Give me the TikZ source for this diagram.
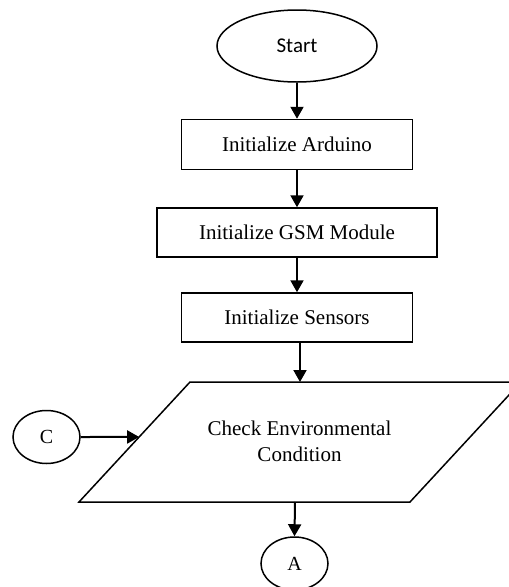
\documentclass[tikz,border=0pt]{standalone}
\usepackage{fontspec}
\setmainfont{Liberation Serif}
\newfontfamily\startfont{Carlito}
\usetikzlibrary{shapes.geometric,arrows.meta,calc}
\tikzset{
  proc/.style={draw,line width=1.5pt,minimum width=231pt,minimum height=50pt,inner sep=0pt,font=\fontsize{21}{25}\selectfont},
  term/.style={draw,ellipse,line width=1.5pt,minimum width=160pt,minimum height=72pt,inner sep=0pt,font=\startfont\fontsize{21}{25}\selectfont},
  conn/.style={draw,ellipse,line width=1.5pt,minimum width=67pt,minimum height=53pt,inner sep=0pt,font=\fontsize{20}{24}\selectfont},
  flow/.style={line width=2pt,-{Triangle[length=12pt,width=13pt]}},
}
\begin{document}
\begin{tikzpicture}[x=1pt,y=-1pt]
\clip (0,0) rectangle (509,587);
\node[term] (start) at (297,46) {Start};
\node[proc] (b1) at (297,144.5) {Initialize Arduino};
\node[proc,minimum width=280pt,minimum height=49pt] (b2) at (297,232.5) {Initialize GSM Module};
\node[proc,minimum height=49pt] (b3) at (297,317.5) {Initialize Sensors};
\coordinate (tl) at (190,382);
\coordinate (tr) at (521,382);
\coordinate (br) at (410,502);
\coordinate (bl) at (79,502);
\draw[line width=1.5pt] (tl) -- (tr) -- (br) -- (bl) -- cycle;
\node[align=center,font=\fontsize{21}{26}\selectfont] (chk) at (299.5,441) {Check Environmental\\Condition};
\coordinate (ptop) at (300,382);
\coordinate (pbot) at (295,502);
\coordinate (pl) at ($(tl)!0.458!(bl)$);
\node[conn] (c) at (46.5,437) {C};
\node[conn] (a) at (294.5,563.5) {A};
\draw[flow] (start) -- (b1);
\draw[flow] (b1) -- (b2);
\draw[flow] (b2) -- (b3);
\draw[flow] (b3.south -| ptop) -- (ptop);
\draw[flow] (c.east) -- (pl);
\draw[flow] (pbot) -- (a.north);
\end{tikzpicture}
\end{document}
